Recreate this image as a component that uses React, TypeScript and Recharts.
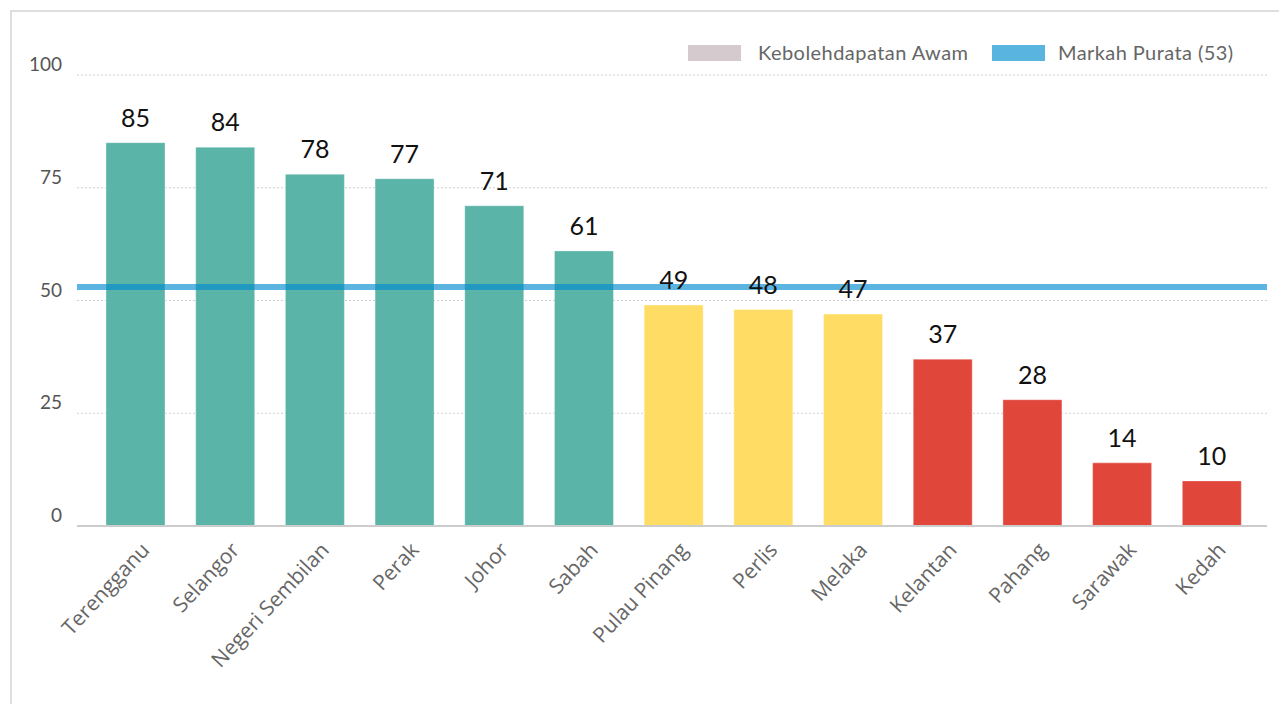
import React from 'react';
import { BarChart, Bar, XAxis, YAxis, CartesianGrid, ReferenceLine, LabelList, Cell } from 'recharts';

const states = [
  'Terengganu',
  'Selangor',
  'Negeri Sembilan',
  'Perak',
  'Johor',
  'Sabah',
  'Pulau Pinang',
  'Perlis',
  'Melaka',
  'Kelantan',
  'Pahang',
  'Sarawak',
  'Kedah',
];
const scores = [85, 84, 78, 77, 71, 61, 49, 48, 47, 37, 28, 14, 10];
const bands = ['high', 'high', 'high', 'high', 'high', 'high', 'mid', 'mid', 'mid', 'low', 'low', 'low', 'low'];
const yTicks = [0, 25, 50, 75, 100];
const averageScore = 53;
const seriesLabel = 'Kebolehdapatan Awam';
const averageLabel = `Markah Purata (${averageScore})`;

const bandColors: Record<string, string> = {
  high: '#5BB4A8',
  mid: '#FFDD65',
  low: '#E1463B',
};
const legendGray = '#D5CACE';
const averageStroke = 'rgba(0,137,206,0.64)';

const data = states.map((s, i) => ({ state: s, score: scores[i], band: bands[i] }));

const LABEL_FONT = "'Gill Sans', Lato, 'Open Sans', sans-serif";

const XTick = (props: any) => {
  const { x, y, payload } = props;
  return (
    <g transform={`translate(${x + 15},${y + 25})`}>
      <text
        textAnchor="end"
        transform="rotate(-47)"
        fill="#666"
        fontSize={21}
        fontFamily="'Open Sans', sans-serif"
      >
        {payload.value}
      </text>
    </g>
  );
};

const YTick = (props: any) => {
  const { x, y, payload } = props;
  return (
    <text x={x} y={y} dy={-4} textAnchor="end" fill="#555" fontSize={19} fontFamily={LABEL_FONT}>
      {payload.value}
    </text>
  );
};

const LegendOverlay = () => (
  <svg width={1279} height={80} style={{ position: 'absolute', left: 0, top: 0 }}>
    <rect x={688} y={45} width={53} height={16} fill={legendGray} />
    <text x={758} y={60} fill="#666" fontSize={20} fontFamily={LABEL_FONT} textLength={210}>
      {seriesLabel}
    </text>
    <rect x={992} y={45} width={53} height={16} fill="#5AB4E0" />
    <text x={1058} y={60} fill="#666" fontSize={20} fontFamily={LABEL_FONT} textLength={175}>
      {averageLabel}
    </text>
  </svg>
);

export default function App() {
  return (
    <div
      style={{
        position: 'absolute',
        left: 0,
        top: 0,
        width: 1279,
        height: 704,
        overflow: 'hidden',
        background: '#fff',
      }}
    >
      <div
        style={{
          position: 'absolute',
          left: 10,
          top: 10,
          width: 1269,
          height: 694,
          borderLeft: '2px solid #dedede',
          borderTop: '2px solid #dedede',
          boxSizing: 'border-box',
        }}
      />
      <div style={{ position: 'absolute', left: 0, top: 0 }}>
        <BarChart
          width={1279}
          height={704}
          data={data}
          margin={{ top: 75, right: 12, bottom: 28, left: 17 }}
        >
          <CartesianGrid vertical={false} stroke="#cfcfcf" strokeDasharray="2 2" />
          <XAxis
            dataKey="state"
            interval={0}
            height={150}
            padding={{ left: 14, right: 10 }}
            tickLine={false}
            tickSize={0}
            tickMargin={0}
            axisLine={{ stroke: '#cccccc', strokeWidth: 2 }}
            tick={<XTick />}
          />
          <YAxis
            domain={[0, 100]}
            ticks={yTicks}
            width={60}
            axisLine={false}
            tickLine={false}
            tickSize={0}
            tickMargin={15}
            tick={<YTick />}
          />
          <Bar
            dataKey="score"
            name={seriesLabel}
            fill={legendGray}
            barSize={59}
            stroke="rgba(255,255,255,0.35)"
            strokeWidth={1}
            isAnimationActive={false}
          >
            {data.map((d) => (
              <Cell key={d.state} fill={bandColors[d.band]} />
            ))}
            <LabelList
              dataKey="score"
              position="top"
              offset={16}
              fill="#111"
              fontSize={25}
              fontFamily={LABEL_FONT}
            />
          </Bar>
          <ReferenceLine y={averageScore} stroke={averageStroke} strokeWidth={6} />
        </BarChart>
      </div>
      <LegendOverlay />
    </div>
  );
}
